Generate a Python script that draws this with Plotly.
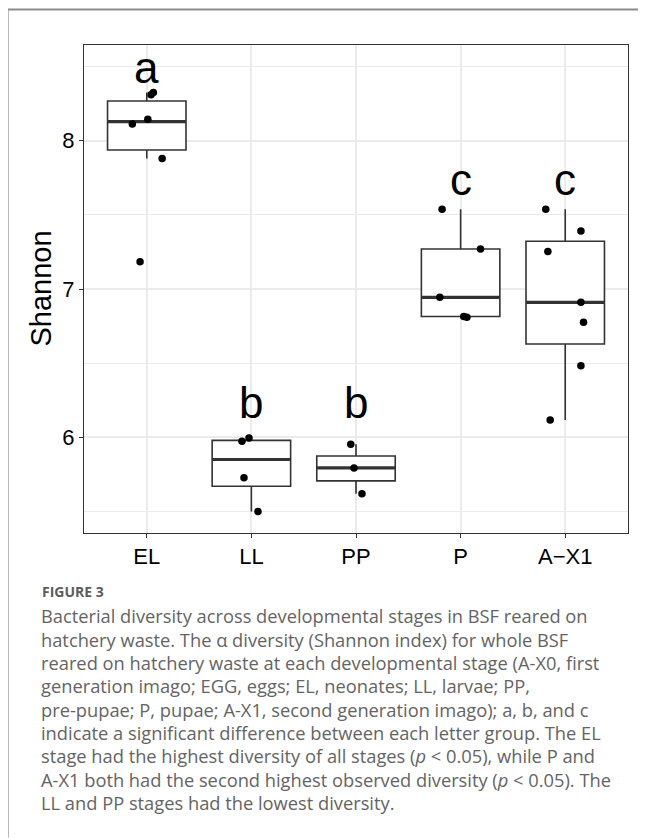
import numpy as np
import plotly.graph_objects as go

# ---------------- data ----------------
stages = ["EL", "LL", "PP", "P", "A\u2212X1"]
shannon_EL = [8.324, 8.309, 8.144, 8.113, 7.879, 7.184]
shannon_LL = [5.995, 5.974, 5.727, 5.500]
shannon_PP = [5.954, 5.794, 5.619]
shannon_P = [7.537, 7.270, 6.944, 6.815, 6.810]
shannon_AX1 = [7.537, 7.391, 7.252, 6.910, 6.775, 6.483, 6.117]
# horizontal jitter of each point (category units)
jitter_EL = [0.063, 0.041, 0.010, -0.138, 0.147, -0.064]
jitter_LL = [-0.023, -0.090, -0.071, 0.063]
jitter_PP = [-0.050, -0.019, 0.057]
jitter_P = [-0.177, 0.190, -0.199, 0.030, 0.060]
jitter_AX1 = [-0.186, 0.150, -0.166, 0.150, 0.175, 0.150, -0.144]
letters = ["a", "b", "b", "c", "c"]
letter_y = [8.49, 6.236, 6.236, 7.736, 7.736]
y_ticks = [6, 7, 8]
y_minor = [5.5, 6.5, 7.5, 8.5]

groups = [shannon_EL, shannon_LL, shannon_PP, shannon_P, shannon_AX1]
jitters = [jitter_EL, jitter_LL, jitter_PP, jitter_P, jitter_AX1]

caption_title = "FIGURE 3"
caption_lines = [
    "Bacterial diversity across developmental stages in BSF reared on",
    "hatchery waste. The \u03b1 diversity (Shannon index) for whole BSF",
    "reared on hatchery waste at each developmental stage (A-X0, first",
    "generation imago; EGG, eggs; EL, neonates; LL, larvae; PP,",
    "pre-pupae; P, pupae; A-X1, second generation imago); a, b, and c",
    "indicate a significant difference between each letter group. The EL",
    "stage had the highest diversity of all stages (<i>p</i> &lt; 0.05), while P and",
    "A-X1 both had the second highest observed diversity (<i>p</i> &lt; 0.05). The",
    "LL and PP stages had the lowest diversity.",
]

# ---------------- layout geometry (page pixels; page body has an 8px margin) ----------------
OFF = 8
W, H = 646 - OFF, 838 - OFF
P_LEFT, P_RIGHT, P_TOP, P_BOTTOM = 84.3, 627.7, 45.0, 533.3   # panel edges in page pixels
ML, MR, MT, MB = P_LEFT - OFF, 646 - P_RIGHT, P_TOP - OFF, 838 - P_BOTTOM
PW, PH = W - ML - MR, H - MT - MB


def px_x(px):
    return (px - P_LEFT) / PW


def px_y(py):
    return (P_BOTTOM - py) / PH


# ---------------- box statistics (R type 7 quantiles) ----------------
xs = list(range(len(stages)))
q1s, meds, q3s, lows, highs = [], [], [], [], []
for g in groups:
    a = np.array(g)
    q1, med, q3 = np.percentile(a, [25, 50, 75])
    iqr = q3 - q1
    lo = a[a >= q1 - 1.5 * iqr].min()
    hi = a[a <= q3 + 1.5 * iqr].max()
    q1s.append(q1); meds.append(med); q3s.append(q3); lows.append(lo); highs.append(hi)

BOXW = 0.75
box_col = "#333333"

fig = go.Figure()
fig.add_trace(go.Box(
    x=xs, q1=q1s, median=meds, q3=q3s, lowerfence=lows, upperfence=highs,
    width=BOXW, fillcolor="white", line=dict(color=box_col, width=1.6),
    whiskerwidth=0, boxpoints=False, showlegend=False, hoverinfo="skip",
))

mx, my = [], []
for i, m in zip(xs, meds):
    mx += [i - BOXW / 2, i + BOXW / 2, None]
    my += [m, m, None]
fig.add_trace(go.Scatter(x=mx, y=my, mode="lines",
                         line=dict(color=box_col, width=3.2),
                         showlegend=False, hoverinfo="skip"))

px_, py_ = [], []
for i, (g, j) in enumerate(zip(groups, jitters)):
    for v, d in zip(g, j):
        px_.append(i + d)
        py_.append(v)
fig.add_trace(go.Scatter(x=px_, y=py_, mode="markers",
                         marker=dict(color="black", size=7.5),
                         showlegend=False))

annotations = []
for i, (t, ly) in enumerate(zip(letters, letter_y)):
    annotations.append(dict(x=i, y=ly, xref="x", yref="y", text=t, showarrow=False,
                            xanchor="center", yanchor="middle",
                            font=dict(family="Liberation Sans, Arimo, Arial", size=44, color="black")))

annotations.append(dict(x=px_x(41), y=px_y(289), xref="paper", yref="paper", text="Shannon",
                        textangle=-90, showarrow=False, xanchor="center", yanchor="middle",
                        font=dict(family="Liberation Sans, Arimo, Arial", size=29, color="black")))

cap_font = "Open Sans, Noto Sans, sans-serif"
annotations.append(dict(x=px_x(40), y=px_y(592), xref="paper", yref="paper", text="<b>" + caption_title + "</b>",
                        showarrow=False, xanchor="left", yanchor="middle",
                        font=dict(family=cap_font, size=14, color="#5c5c5c")))
for k, line in enumerate(caption_lines):
    cy = 616 + 23.4 * k
    annotations.append(dict(x=px_x(39.5), y=px_y(cy), xref="paper", yref="paper", text=line,
                            showarrow=False, xanchor="left", yanchor="middle",
                            font=dict(family=cap_font, size=18.3, color="#646464")))

shapes = [
    dict(type="line", xref="paper", yref="paper", x0=px_x(8), x1=px_x(646), y0=px_y(9.5), y1=px_y(9.5),
         line=dict(color="#8c8c8c", width=2)),
    dict(type="line", xref="paper", yref="paper", x0=px_x(8), x1=px_x(8), y0=px_y(9.5), y1=px_y(838),
         line=dict(color="#8c8c8c", width=2)),
]

fig.update_layout(
    width=W, height=H,
    margin=dict(l=ML, r=MR, t=MT, b=MB, pad=0),
    paper_bgcolor="white", plot_bgcolor="white",
    boxmode="overlay",
    annotations=annotations, shapes=shapes,
    font=dict(family="Liberation Sans, Arimo, Arial", color="black"),
    xaxis=dict(range=[-0.6, 4.6], tickmode="array", tickvals=xs, ticktext=stages,
               showgrid=True, gridcolor="#EBEBEB", gridwidth=1.5, zeroline=False,
               showline=True, linecolor="#333333", linewidth=1, mirror=True,
               ticks="outside", ticklen=4, tickcolor="#333333", tickwidth=1,
               tickfont=dict(size=22, color="black")),
    yaxis=dict(range=[5.355, 8.645], tickmode="array", tickvals=y_ticks,
               showgrid=True, gridcolor="#EBEBEB", gridwidth=1.5, zeroline=False,
               showline=True, linecolor="#333333", linewidth=1, mirror=True,
               ticks="outside", ticklen=4, tickcolor="#333333", tickwidth=1,
               tickfont=dict(size=22, color="black"),
               minor=dict(tickmode="array", tickvals=y_minor, showgrid=True,
                          gridcolor="#EBEBEB", gridwidth=0.8, ticks="")),
)

fig.write_html("out.html")
